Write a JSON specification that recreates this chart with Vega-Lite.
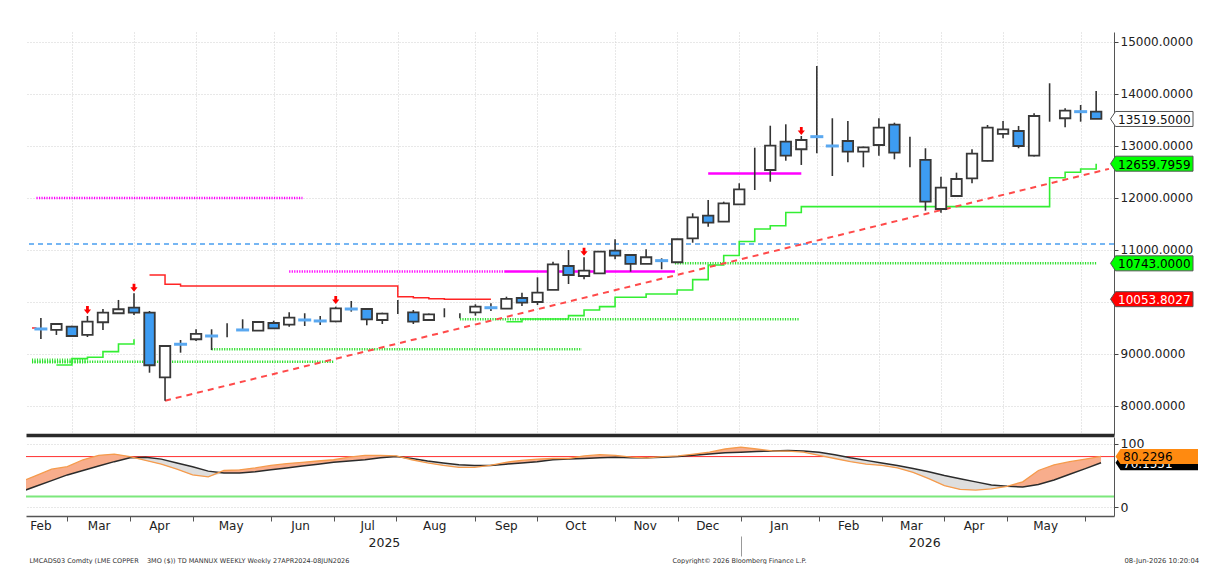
{
  "$schema": "https://vega.github.io/schema/vega-lite/v6.json",
  "background": "white",
  "padding": {"left": 22, "top": 32, "right": 2, "bottom": 0},
  "spacing": 2,
  "config": {"view": {"stroke": null}, "font": "DejaVu Sans"},
  "datasets": {
    "candles": [
      {"d":"2025-02-21","o":9481,"h":9692,"l":9289,"c":9481,"t":"doji"},
      {"d":"2025-02-28","o":9462,"h":9596,"l":9366,"c":9577,"t":"up"},
      {"d":"2025-03-07","o":9525,"h":9545,"l":9327,"c":9346,"t":"down"},
      {"d":"2025-03-14","o":9366,"h":9731,"l":9327,"c":9621,"t":"up"},
      {"d":"2025-03-21","o":9610,"h":9865,"l":9462,"c":9794,"t":"up"},
      {"d":"2025-03-28","o":9783,"h":10039,"l":9775,"c":9860,"t":"up"},
      {"d":"2025-04-04","o":9890,"h":10167,"l":9750,"c":9794,"t":"down"},
      {"d":"2025-04-11","o":9794,"h":9827,"l":8640,"c":8783,"t":"down"},
      {"d":"2025-04-18","o":8552,"h":9163,"l":8102,"c":9154,"t":"up"},
      {"d":"2025-04-25","o":9187,"h":9269,"l":9025,"c":9187,"t":"doji"},
      {"d":"2025-05-02","o":9283,"h":9475,"l":9250,"c":9385,"t":"up"},
      {"d":"2025-05-09","o":9346,"h":9475,"l":9077,"c":9346,"t":"doji"},
      {"d":"2025-05-16","o":9455,"h":9590,"l":9321,"c":9455,"t":"wick"},
      {"d":"2025-05-23","o":9462,"h":9667,"l":9462,"c":9462,"t":"doji"},
      {"d":"2025-05-30","o":9448,"h":9615,"l":9448,"c":9615,"t":"up"},
      {"d":"2025-06-06","o":9596,"h":9640,"l":9494,"c":9494,"t":"down"},
      {"d":"2025-06-13","o":9564,"h":9802,"l":9525,"c":9698,"t":"up"},
      {"d":"2025-06-20","o":9654,"h":9783,"l":9538,"c":9654,"t":"doji"},
      {"d":"2025-06-27","o":9635,"h":9731,"l":9558,"c":9635,"t":"doji"},
      {"d":"2025-07-04","o":9629,"h":9910,"l":9610,"c":9879,"t":"up"},
      {"d":"2025-07-11","o":9865,"h":10019,"l":9814,"c":9865,"t":"doji"},
      {"d":"2025-07-18","o":9865,"h":9865,"l":9552,"c":9667,"t":"down"},
      {"d":"2025-07-25","o":9654,"h":9794,"l":9577,"c":9775,"t":"up"},
      {"d":"2025-08-01","o":9900,"h":10039,"l":9769,"c":9900,"t":"wick"},
      {"d":"2025-08-08","o":9802,"h":9846,"l":9577,"c":9621,"t":"down"},
      {"d":"2025-08-15","o":9654,"h":9780,"l":9645,"c":9763,"t":"up"},
      {"d":"2025-08-22","o":9790,"h":9879,"l":9706,"c":9790,"t":"wick"},
      {"d":"2025-08-29","o":9735,"h":9783,"l":9687,"c":9735,"t":"wick"},
      {"d":"2025-09-05","o":9802,"h":9956,"l":9737,"c":9910,"t":"up"},
      {"d":"2025-09-12","o":9890,"h":9975,"l":9827,"c":9890,"t":"doji"},
      {"d":"2025-09-19","o":9871,"h":10102,"l":9871,"c":10058,"t":"up"},
      {"d":"2025-09-26","o":10077,"h":10179,"l":9923,"c":9987,"t":"down"},
      {"d":"2025-10-03","o":10000,"h":10475,"l":9942,"c":10179,"t":"up"},
      {"d":"2025-10-10","o":10231,"h":10775,"l":10231,"c":10725,"t":"up"},
      {"d":"2025-10-17","o":10692,"h":11000,"l":10346,"c":10519,"t":"down"},
      {"d":"2025-10-24","o":10500,"h":10860,"l":10437,"c":10602,"t":"up"},
      {"d":"2025-10-31","o":10552,"h":10975,"l":10540,"c":10967,"t":"up"},
      {"d":"2025-11-07","o":10987,"h":11206,"l":10821,"c":10890,"t":"down"},
      {"d":"2025-11-14","o":10904,"h":10910,"l":10583,"c":10731,"t":"down"},
      {"d":"2025-11-21","o":10731,"h":11013,"l":10731,"c":10860,"t":"up"},
      {"d":"2025-11-28","o":10795,"h":10840,"l":10629,"c":10795,"t":"doji"},
      {"d":"2025-12-05","o":10764,"h":11215,"l":10755,"c":11206,"t":"up"},
      {"d":"2025-12-12","o":11225,"h":11706,"l":11140,"c":11629,"t":"up"},
      {"d":"2025-12-19","o":11660,"h":11962,"l":11448,"c":11525,"t":"down"},
      {"d":"2025-12-26","o":11544,"h":11929,"l":11544,"c":11898,"t":"up"},
      {"d":"2026-01-02","o":11879,"h":12283,"l":11879,"c":12167,"t":"up"},
      {"d":"2026-01-09","o":12560,"h":12967,"l":12154,"c":12560,"t":"wick"},
      {"d":"2026-01-16","o":12538,"h":13390,"l":12313,"c":13006,"t":"up"},
      {"d":"2026-01-23","o":13083,"h":13417,"l":12717,"c":12813,"t":"down"},
      {"d":"2026-01-30","o":12937,"h":13192,"l":12635,"c":13115,"t":"up"},
      {"d":"2026-02-06","o":13179,"h":14538,"l":12860,"c":13179,"t":"doji"},
      {"d":"2026-02-13","o":13000,"h":13533,"l":12423,"c":13000,"t":"doji"},
      {"d":"2026-02-20","o":13096,"h":13481,"l":12687,"c":12890,"t":"down"},
      {"d":"2026-02-27","o":12890,"h":12990,"l":12590,"c":12975,"t":"up"},
      {"d":"2026-03-06","o":13019,"h":13533,"l":12813,"c":13352,"t":"up"},
      {"d":"2026-03-13","o":13410,"h":13448,"l":12744,"c":12871,"t":"down"},
      {"d":"2026-03-20","o":12880,"h":13179,"l":12590,"c":12880,"t":"wick"},
      {"d":"2026-03-27","o":12731,"h":12956,"l":11756,"c":11929,"t":"down"},
      {"d":"2026-04-03","o":11788,"h":12410,"l":11717,"c":12198,"t":"up"},
      {"d":"2026-04-10","o":12038,"h":12487,"l":12030,"c":12365,"t":"up"},
      {"d":"2026-04-17","o":12379,"h":12937,"l":12283,"c":12852,"t":"up"},
      {"d":"2026-04-24","o":12712,"h":13404,"l":12705,"c":13352,"t":"up"},
      {"d":"2026-05-01","o":13231,"h":13481,"l":13148,"c":13321,"t":"up"},
      {"d":"2026-05-08","o":13288,"h":13385,"l":12956,"c":13000,"t":"down"},
      {"d":"2026-05-15","o":12813,"h":13629,"l":12800,"c":13577,"t":"up"},
      {"d":"2026-05-22","o":13830,"h":14206,"l":13467,"c":13830,"t":"wick"},
      {"d":"2026-05-29","o":13533,"h":13725,"l":13360,"c":13679,"t":"up"},
      {"d":"2026-06-05","o":13660,"h":13788,"l":13467,"c":13660,"t":"doji"},
      {"d":"2026-06-12","o":13660,"h":14058,"l":13519.5,"c":13519.5,"t":"down"}
    ],
    "lines": [
      {"s":"mdot","d":"2025-02-19","v":12000},{"s":"mdot","d":"2025-06-19","v":12000},
      {"s":"mdot2","d":"2025-06-13","v":10585},{"s":"mdot2","d":"2025-09-18","v":10585},
      {"s":"msol","d":"2025-09-18","v":10585},{"s":"msol","d":"2025-12-04","v":10585},
      {"s":"msol2","d":"2025-12-19","v":12471},{"s":"msol2","d":"2026-01-30","v":12471},
      {"s":"gdot1","d":"2025-05-09","v":9091},{"s":"gdot1","d":"2025-10-23","v":9091},
      {"s":"gdot2","d":"2025-02-17","v":8852},{"s":"gdot2","d":"2025-07-03","v":8852},
      {"s":"ghatch","d":"2025-02-17","v":8866},{"s":"ghatch","d":"2025-03-14","v":8866},
      {"s":"gdot3","d":"2025-08-29","v":9667},{"s":"gdot3","d":"2026-01-29","v":9667},
      {"s":"gdot4","d":"2025-12-04","v":10743},{"s":"gdot4","d":"2026-06-12","v":10743},
      {"s":"rleft","d":"2025-02-17","v":9500},{"s":"rleft","d":"2025-02-19","v":9500},
      {"s":"rstep","d":"2025-04-11","v":10519},{"s":"rstep","d":"2025-04-18","v":10340},
      {"s":"rstep","d":"2025-04-25","v":10308},{"s":"rstep","d":"2025-08-01","v":10102},
      {"s":"rstep","d":"2025-08-08","v":10083},{"s":"rstep","d":"2025-08-15","v":10063},
      {"s":"rstep","d":"2025-08-22","v":10053.8027},{"s":"rstep","d":"2025-09-12","v":10053.8027},
      {"s":"gstepA","d":"2025-02-28","v":8789},{"s":"gstepA","d":"2025-03-07","v":8910},
      {"s":"gstepA","d":"2025-03-14","v":8936},{"s":"gstepA","d":"2025-03-21","v":9045},
      {"s":"gstepA","d":"2025-03-28","v":9192},{"s":"gstepA","d":"2025-04-04","v":9283},
      {"s":"gstepB","d":"2025-09-19","v":9621},{"s":"gstepB","d":"2025-09-26","v":9673},
      {"s":"gstepB","d":"2025-10-17","v":9737},{"s":"gstepB","d":"2025-10-24","v":9846},
      {"s":"gstepB","d":"2025-10-31","v":9910},{"s":"gstepB","d":"2025-11-07","v":10090},
      {"s":"gstepB","d":"2025-11-21","v":10154},{"s":"gstepB","d":"2025-12-05","v":10231},
      {"s":"gstepB","d":"2025-12-12","v":10430},{"s":"gstepB","d":"2025-12-19","v":10712},
      {"s":"gstepB","d":"2025-12-26","v":10895},{"s":"gstepB","d":"2026-01-02","v":11163},
      {"s":"gstepB","d":"2026-01-09","v":11404},{"s":"gstepB","d":"2026-01-16","v":11467},
      {"s":"gstepB","d":"2026-01-23","v":11721},{"s":"gstepB","d":"2026-01-30","v":11833},
      {"s":"gstepB","d":"2026-05-22","v":12390},{"s":"gstepB","d":"2026-05-29","v":12494},
      {"s":"gstepB","d":"2026-06-05","v":12558},{"s":"gstepB","d":"2026-06-12","v":12659.7959},
      {"s":"trend","d":"2025-04-18","v":8102},{"s":"trend","d":"2026-06-17T19:00:00Z","v":12560}
    ],
    "arrows": [
      {"d":"2025-03-14","v":9846},
      {"d":"2025-04-04","v":10275},
      {"d":"2025-07-04","v":10039},
      {"d":"2025-10-24","v":10967},
      {"d":"2026-01-30","v":13288}
    ],
    "ind": [
      {"d":"2025-02-14","s":24,"f":40,"lo":24},
      {"d":"2025-02-21","s":33,"f":50,"lo":33},
      {"d":"2025-02-28","s":42,"f":60,"lo":42},
      {"d":"2025-03-07","s":51,"f":64,"lo":51},
      {"d":"2025-03-14","s":58,"f":75,"lo":58},
      {"d":"2025-03-21","s":65,"f":82,"lo":65},
      {"d":"2025-03-28","s":72,"f":84,"lo":72},
      {"d":"2025-04-04","s":78,"f":80,"lo":78},
      {"d":"2025-04-11","s":79,"f":74,"lo":74},
      {"d":"2025-04-18","s":76,"f":68,"lo":68},
      {"d":"2025-04-25","s":70,"f":60,"lo":60},
      {"d":"2025-05-02","s":64,"f":51,"lo":51},
      {"d":"2025-05-09","s":57,"f":48,"lo":48},
      {"d":"2025-05-16","s":54,"f":58,"lo":54},
      {"d":"2025-05-23","s":54,"f":59,"lo":54},
      {"d":"2025-05-30","s":56,"f":62,"lo":56},
      {"d":"2025-06-06","s":59,"f":66,"lo":59},
      {"d":"2025-06-13","s":62,"f":69,"lo":62},
      {"d":"2025-06-20","s":65,"f":71,"lo":65},
      {"d":"2025-06-27","s":68,"f":73,"lo":68},
      {"d":"2025-07-04","s":71,"f":75,"lo":71},
      {"d":"2025-07-11","s":73,"f":79,"lo":73},
      {"d":"2025-07-18","s":75,"f":82,"lo":75},
      {"d":"2025-07-25","s":78,"f":82,"lo":78},
      {"d":"2025-08-01","s":80,"f":81,"lo":80},
      {"d":"2025-08-08","s":77,"f":75,"lo":75},
      {"d":"2025-08-15","s":73,"f":70,"lo":70},
      {"d":"2025-08-22","s":70,"f":66,"lo":66},
      {"d":"2025-08-29","s":67,"f":63,"lo":63},
      {"d":"2025-09-05","s":66,"f":63,"lo":63},
      {"d":"2025-09-12","s":66,"f":66,"lo":66},
      {"d":"2025-09-19","s":68,"f":71,"lo":68},
      {"d":"2025-09-26","s":70,"f":74,"lo":70},
      {"d":"2025-10-03","s":72,"f":76,"lo":72},
      {"d":"2025-10-10","s":75,"f":77,"lo":75},
      {"d":"2025-10-17","s":76,"f":77,"lo":76},
      {"d":"2025-10-24","s":77,"f":81,"lo":77},
      {"d":"2025-10-31","s":78,"f":83,"lo":78},
      {"d":"2025-11-07","s":79,"f":82,"lo":79},
      {"d":"2025-11-14","s":78,"f":79,"lo":78},
      {"d":"2025-11-21","s":78,"f":78,"lo":78},
      {"d":"2025-11-28","s":79,"f":80,"lo":79},
      {"d":"2025-12-05","s":80,"f":81,"lo":80},
      {"d":"2025-12-12","s":82,"f":84,"lo":82},
      {"d":"2025-12-19","s":84,"f":87,"lo":84},
      {"d":"2025-12-26","s":86,"f":92,"lo":86},
      {"d":"2026-01-02","s":87,"f":95,"lo":87},
      {"d":"2026-01-09","s":88,"f":92,"lo":88},
      {"d":"2026-01-16","s":89,"f":89,"lo":89},
      {"d":"2026-01-23","s":89.5,"f":88.5,"lo":88.5},
      {"d":"2026-01-30","s":89,"f":87,"lo":87},
      {"d":"2026-02-06","s":87,"f":82,"lo":82},
      {"d":"2026-02-13","s":83,"f":77,"lo":77},
      {"d":"2026-02-20","s":78,"f":72,"lo":72},
      {"d":"2026-02-27","s":74,"f":68,"lo":68},
      {"d":"2026-03-06","s":70,"f":66,"lo":66},
      {"d":"2026-03-13","s":66,"f":62,"lo":62},
      {"d":"2026-03-20","s":61,"f":55,"lo":55},
      {"d":"2026-03-27","s":56,"f":45,"lo":45},
      {"d":"2026-04-03","s":50,"f":34,"lo":34},
      {"d":"2026-04-10","s":45,"f":28,"lo":28},
      {"d":"2026-04-17","s":40,"f":27,"lo":27},
      {"d":"2026-04-24","s":35,"f":29,"lo":29},
      {"d":"2026-05-01","s":33,"f":33,"lo":33},
      {"d":"2026-05-08","s":32,"f":40,"lo":32},
      {"d":"2026-05-15","s":36,"f":58,"lo":36},
      {"d":"2026-05-22","s":43,"f":67,"lo":43},
      {"d":"2026-05-29","s":52,"f":72,"lo":52},
      {"d":"2026-06-05","s":61,"f":76,"lo":61},
      {"d":"2026-06-12","s":70.1551,"f":80.2296,"lo":70.1551}
    ],
    "tagsMain": [
      {"v":13519.5,"k":"last"},
      {"v":12659.7959,"k":"up"},
      {"v":10743,"k":"up"},
      {"v":10053.8027,"k":"dn"}
    ],
    "tagsInd": [
      {"v":70.1551,"k":"slow"},
      {"v":80.2296,"k":"fast"}
    ]
  },
  "vconcat": [
    {
      "width": 1088,
      "height": 403,
      "resolve": {"scale": {"fill": "independent", "color": "independent"}},
      "layer": [
        {
          "data": {"values": [{}]},
          "mark": {"type": "rule", "color": "#4a9ff0", "strokeWidth": 1.5, "strokeDash": [5, 4]},
          "encoding": {
            "y": {"datum": 11115, "type": "quantitative",
              "scale": {"domain": [7442, 15192], "nice": false, "zero": false},
              "axis": {"orient": "right", "values": [8000, 9000, 10000, 11000, 12000, 13000, 14000, 15000],
                "labelExpr": "datum.value == 10000 ? '' : format(datum.value, '.4f')",
                "labelFont": "DejaVu Sans", "labelFontSize": 12, "labelColor": "#222", "labelPadding": 2,
                "tickSize": 4, "tickColor": "#444", "domainColor": "#555", "domainWidth": 1,
                "grid": true, "gridColor": "#d0d0d0", "gridDash": [1, 2], "title": null}}
          }
        },
        {
          "data": {"name": "lines"},
          "transform": [{"filter": {"field": "s", "oneOf": ["gdot1", "gdot2", "gdot3", "gdot4"]}}],
          "mark": {"type": "line", "color": "#2ee02e", "strokeWidth": 2.5, "strokeDash": [1.2, 1.3]},
          "encoding": {
            "x": {"field": "d", "type": "temporal",
              "scale": {"type": "utc", "domain": [{"year": 2025, "month": 2, "date": 16, "hours": 13, "utc": true}, {"year": 2026, "month": 6, "date": 17, "hours": 19, "utc": true}]},
              "axis": {"orient": "bottom", "values": [
                  {"year": 2025, "month": 3, "date": 7, "utc": true}, {"year": 2025, "month": 4, "date": 4, "utc": true},
                  {"year": 2025, "month": 5, "date": 2, "utc": true}, {"year": 2025, "month": 6, "date": 6, "utc": true},
                  {"year": 2025, "month": 7, "date": 4, "utc": true}, {"year": 2025, "month": 8, "date": 1, "utc": true},
                  {"year": 2025, "month": 9, "date": 5, "utc": true}, {"year": 2025, "month": 10, "date": 3, "utc": true},
                  {"year": 2025, "month": 11, "date": 7, "utc": true}, {"year": 2025, "month": 12, "date": 5, "utc": true},
                  {"year": 2026, "month": 1, "date": 2, "utc": true}, {"year": 2026, "month": 2, "date": 6, "utc": true},
                  {"year": 2026, "month": 3, "date": 6, "utc": true}, {"year": 2026, "month": 4, "date": 3, "utc": true},
                  {"year": 2026, "month": 5, "date": 1, "utc": true}, {"year": 2026, "month": 6, "date": 5, "utc": true}],
                "labels": false, "ticks": false, "domain": true, "domainColor": "#2a2a2a", "domainWidth": 3.5,
                "grid": true, "gridColor": "#d0d0d0", "gridDash": [1, 2], "title": null}},
            "y": {"field": "v", "type": "quantitative", "scale": {"domain": [7442, 15192], "nice": false, "zero": false}},
            "detail": {"field": "s", "type": "nominal"}
          }
        },
        {
          "data": {"name": "lines"},
          "transform": [{"filter": {"field": "s", "equal": "ghatch"}}],
          "mark": {"type": "line", "color": "#2ee02e", "strokeWidth": 5, "strokeDash": [1, 1.5]},
          "encoding": {
            "x": {"field": "d", "type": "temporal"},
            "y": {"field": "v", "type": "quantitative"}
          }
        },
        {
          "data": {"name": "lines"},
          "transform": [{"filter": {"field": "s", "oneOf": ["mdot", "mdot2"]}}],
          "mark": {"type": "line", "color": "#ff00ff", "strokeWidth": 2.5, "strokeDash": [1.2, 1.3]},
          "encoding": {
            "x": {"field": "d", "type": "temporal"},
            "y": {"field": "v", "type": "quantitative"},
            "detail": {"field": "s", "type": "nominal"}
          }
        },
        {
          "data": {"name": "lines"},
          "transform": [{"filter": {"field": "s", "oneOf": ["msol", "msol2"]}}],
          "mark": {"type": "line", "color": "#ff00ff", "strokeWidth": 2.5},
          "encoding": {
            "x": {"field": "d", "type": "temporal"},
            "y": {"field": "v", "type": "quantitative"},
            "detail": {"field": "s", "type": "nominal"}
          }
        },
        {
          "data": {"name": "lines"},
          "transform": [{"filter": {"field": "s", "oneOf": ["rstep", "rleft"]}}],
          "mark": {"type": "line", "color": "#ff2424", "strokeWidth": 1.5, "interpolate": "step-after"},
          "encoding": {
            "x": {"field": "d", "type": "temporal"},
            "y": {"field": "v", "type": "quantitative"},
            "detail": {"field": "s", "type": "nominal"}
          }
        },
        {
          "data": {"name": "lines"},
          "transform": [{"filter": {"field": "s", "oneOf": ["gstepA", "gstepB"]}}],
          "mark": {"type": "line", "color": "#33ee33", "strokeWidth": 1.6, "interpolate": "step-after"},
          "encoding": {
            "x": {"field": "d", "type": "temporal"},
            "y": {"field": "v", "type": "quantitative"},
            "detail": {"field": "s", "type": "nominal"}
          }
        },
        {
          "data": {"name": "lines"},
          "transform": [{"filter": {"field": "s", "equal": "trend"}}],
          "mark": {"type": "line", "color": "#ff4a4a", "strokeWidth": 2, "strokeDash": [6, 5]},
          "encoding": {
            "x": {"field": "d", "type": "temporal"},
            "y": {"field": "v", "type": "quantitative"}
          }
        },
        {
          "data": {"name": "candles"},
          "mark": {"type": "rule", "color": "#333333", "strokeWidth": 1.6},
          "encoding": {
            "x": {"field": "d", "type": "temporal"},
            "y": {"field": "l", "type": "quantitative"},
            "y2": {"field": "h"}
          }
        },
        {
          "data": {"name": "candles"},
          "transform": [{"filter": {"field": "t", "oneOf": ["up", "down"]}}],
          "mark": {"type": "bar", "width": 10.5, "stroke": "#383838", "strokeWidth": 1.8},
          "encoding": {
            "x": {"field": "d", "type": "temporal"},
            "y": {"field": "o", "type": "quantitative"},
            "y2": {"field": "c"},
            "fill": {"field": "t", "type": "nominal", "scale": {"domain": ["up", "down"], "range": ["#ffffff", "#3d9cf2"]}, "legend": null}
          }
        },
        {
          "data": {"name": "candles"},
          "transform": [{"filter": {"field": "t", "equal": "doji"}}],
          "mark": {"type": "tick", "orient": "horizontal", "size": 13, "thickness": 3, "color": "#5aa8f0", "opacity": 1},
          "encoding": {
            "x": {"field": "d", "type": "temporal"},
            "y": {"field": "o", "type": "quantitative"}
          }
        },
        {
          "data": {"name": "arrows"},
          "mark": {"type": "point", "shape": "M-0.35,-1 L0.35,-1 L0.35,-0.1 L0.9,-0.1 L0,1 L-0.9,-0.1 L-0.35,-0.1 Z", "size": 64, "filled": true, "color": "#ff0000", "opacity": 1, "strokeWidth": 0},
          "encoding": {
            "x": {"field": "d", "type": "temporal"},
            "y": {"field": "v", "type": "quantitative"}
          }
        },
        {
          "data": {"name": "tagsMain"},
          "mark": {"type": "point", "shape": "M0.15,0 L0.65,-0.75 L8.4,-0.75 L8.4,0.75 L0.65,0.75 Z", "size": 400, "filled": true, "opacity": 1, "stroke": "#555555", "strokeWidth": 1},
          "encoding": {
            "x": {"datum": {"year": 2026, "month": 6, "date": 17, "hours": 19, "utc": true}, "type": "temporal"},
            "y": {"field": "v", "type": "quantitative"},
            "fill": {"field": "k", "type": "nominal", "scale": {"domain": ["last", "up", "dn"], "range": ["#ffffff", "#00ff00", "#ff0000"]}, "legend": null}
          }
        },
        {
          "data": {"name": "tagsMain"},
          "mark": {"type": "text", "align": "left", "baseline": "middle", "dx": 9, "dy": 1, "font": "DejaVu Sans", "fontSize": 12},
          "encoding": {
            "x": {"datum": {"year": 2026, "month": 6, "date": 17, "hours": 19, "utc": true}, "type": "temporal"},
            "y": {"field": "v", "type": "quantitative"},
            "text": {"field": "v", "type": "quantitative", "format": ".4f"},
            "color": {"field": "k", "type": "nominal", "scale": {"domain": ["last", "up", "dn"], "range": ["#111111", "#000000", "#ffffff"]}, "legend": null}
          }
        }
      ]
    },
    {
      "width": 1088,
      "height": 79,
      "resolve": {"axis": {"x": "independent"}},
      "layer": [
        {
          "data": {"values": [{}]},
          "mark": {"type": "rule", "color": "#ff3030", "strokeWidth": 1},
          "encoding": {
            "y": {"datum": 80, "type": "quantitative",
              "scale": {"domain": [-14, 111], "nice": false, "zero": false},
              "axis": {"orient": "right", "values": [0, 50, 100], "format": "d",
                "labelFont": "DejaVu Sans", "labelFontSize": 12.5, "labelColor": "#222", "labelPadding": 2,
                "tickSize": 4, "tickColor": "#444", "domainColor": "#555", "domainWidth": 1,
                "grid": true, "gridColor": "#d0d0d0", "gridDash": [1, 2], "title": null}}
          }
        },
        {
          "data": {"values": [{}]},
          "mark": {"type": "rule", "color": "#7ce87c", "strokeWidth": 2},
          "encoding": {"y": {"datum": 17, "type": "quantitative"}}
        },
        {
          "data": {"name": "ind"},
          "mark": {"type": "area", "color": "#f8ad8c", "opacity": 1, "clip": true},
          "encoding": {
            "x": {"field": "d", "type": "temporal",
              "scale": {"type": "utc", "domain": [{"year": 2025, "month": 2, "date": 16, "hours": 13, "utc": true}, {"year": 2026, "month": 6, "date": 17, "hours": 19, "utc": true}]},
              "axis": {"orient": "bottom", "values": [
                  {"year": 2025, "month": 3, "date": 7, "utc": true}, {"year": 2025, "month": 4, "date": 4, "utc": true},
                  {"year": 2025, "month": 5, "date": 2, "utc": true}, {"year": 2025, "month": 6, "date": 6, "utc": true},
                  {"year": 2025, "month": 7, "date": 4, "utc": true}, {"year": 2025, "month": 8, "date": 1, "utc": true},
                  {"year": 2025, "month": 9, "date": 5, "utc": true}, {"year": 2025, "month": 10, "date": 3, "utc": true},
                  {"year": 2025, "month": 11, "date": 7, "utc": true}, {"year": 2025, "month": 12, "date": 5, "utc": true},
                  {"year": 2026, "month": 1, "date": 2, "utc": true}, {"year": 2026, "month": 2, "date": 6, "utc": true},
                  {"year": 2026, "month": 3, "date": 6, "utc": true}, {"year": 2026, "month": 4, "date": 3, "utc": true},
                  {"year": 2026, "month": 5, "date": 1, "utc": true}, {"year": 2026, "month": 6, "date": 5, "utc": true}],
                "labels": false, "ticks": true, "tickSize": 5, "tickColor": "#555", "domain": true, "domainColor": "#555", "domainWidth": 1.5,
                "grid": false,
                "title": "08-Jun-2026 10:20:04", "titleFont": "DejaVu Sans", "titleFontSize": 6.8, "titleFontWeight": "normal", "titleColor": "#333",
                "titleX": 1098, "titleY": 46, "titleAlign": "left", "titleBaseline": "alphabetic", "titleAngle": 0}},
            "y": {"field": "f", "type": "quantitative"},
            "y2": {"field": "s"}
          }
        },
        {
          "data": {"name": "ind"},
          "mark": {"type": "area", "color": "#dedede", "opacity": 1, "clip": true},
          "encoding": {
            "x": {"field": "d", "type": "temporal",
              "axis": {"orient": "bottom", "values": [
                  {"year": 2025, "month": 2, "date": 23, "utc": true}, {"year": 2025, "month": 3, "date": 21, "utc": true},
                  {"year": 2025, "month": 4, "date": 17, "utc": true}, {"year": 2025, "month": 5, "date": 19, "utc": true},
                  {"year": 2025, "month": 6, "date": 19, "utc": true}, {"year": 2025, "month": 7, "date": 19, "utc": true},
                  {"year": 2025, "month": 8, "date": 18, "utc": true}, {"year": 2025, "month": 9, "date": 19, "utc": true},
                  {"year": 2025, "month": 10, "date": 20, "utc": true}, {"year": 2025, "month": 11, "date": 20, "utc": true},
                  {"year": 2025, "month": 12, "date": 18, "utc": true}, {"year": 2026, "month": 1, "date": 19, "utc": true},
                  {"year": 2026, "month": 2, "date": 19, "utc": true}, {"year": 2026, "month": 3, "date": 19, "utc": true},
                  {"year": 2026, "month": 4, "date": 16, "utc": true}, {"year": 2026, "month": 5, "date": 18, "utc": true}],
                "labelExpr": "utcFormat(datum.value, '%b')", "ticks": false, "domain": false, "grid": false,
                "labelFont": "DejaVu Sans", "labelFontSize": 12, "labelColor": "#222", "labelPadding": 4,
                "labelOverlap": false, "labelFlush": false, "title": null}},
            "y": {"field": "s", "type": "quantitative"},
            "y2": {"field": "lo"}
          }
        },
        {
          "data": {"name": "ind"},
          "mark": {"type": "line", "color": "#2b2b2b", "strokeWidth": 1.5, "clip": true},
          "encoding": {
            "x": {"field": "d", "type": "temporal",
              "axis": {"orient": "bottom", "offset": 18, "values": [
                  {"year": 2025, "month": 7, "date": 26, "hours": 12, "utc": true}, {"year": 2026, "month": 3, "date": 25, "utc": true}],
                "labelExpr": "utcFormat(datum.value, '%Y')", "ticks": false, "domain": false, "grid": false,
                "labelFont": "DejaVu Sans", "labelFontSize": 12.5, "labelColor": "#222", "labelPadding": 2,
                "labelOverlap": false, "labelFlush": false,
                "title": "LMCADS03 Comdty (LME COPPER\u00a0\u00a0\u00a0\u00a03MO ($)) TD MANNUX WEEKLY Weekly 27APR2024-08JUN2026",
                "titleFont": "DejaVu Sans", "titleFontSize": 6.5, "titleFontWeight": "normal", "titleColor": "#333",
                "titleX": 3, "titleY": 28, "titleAlign": "left", "titleBaseline": "alphabetic", "titleAngle": 0}},
            "y": {"field": "s", "type": "quantitative"}
          }
        },
        {
          "data": {"name": "ind"},
          "mark": {"type": "line", "color": "#f59b4c", "strokeWidth": 1.3, "clip": true},
          "encoding": {
            "x": {"field": "d", "type": "temporal",
              "axis": {"orient": "bottom", "offset": 20, "values": [{"year": 2026, "month": 1, "date": 2, "utc": true}],
                "labels": false, "ticks": true, "tickSize": 20, "tickColor": "#999", "tickWidth": 1, "domain": false, "grid": false,
                "title": "Copyright\u00a9 2026 Bloomberg Finance L.P.",
                "titleFont": "DejaVu Sans", "titleFontSize": 6.5, "titleFontWeight": "normal", "titleColor": "#333",
                "titleX": 646, "titleY": 26, "titleAlign": "left", "titleBaseline": "alphabetic", "titleAngle": 0}},
            "y": {"field": "f", "type": "quantitative"}
          }
        },
        {
          "data": {"name": "tagsInd"},
          "transform": [{"filter": {"field": "k", "equal": "slow"}}],
          "mark": {"type": "point", "shape": "M0.15,0 L0.65,-0.75 L8.4,-0.75 L8.4,0.75 L0.65,0.75 Z", "size": 400, "filled": true, "opacity": 1, "color": "#000000", "strokeWidth": 0},
          "encoding": {
            "x": {"datum": {"year": 2026, "month": 6, "date": 17, "hours": 19, "utc": true}, "type": "temporal", "axis": null},
            "y": {"field": "v", "type": "quantitative"}
          }
        },
        {
          "data": {"name": "tagsInd"},
          "transform": [{"filter": {"field": "k", "equal": "slow"}}],
          "mark": {"type": "text", "align": "left", "baseline": "middle", "dx": 9, "dy": 1, "font": "DejaVu Sans", "fontSize": 12, "color": "#ffffff"},
          "encoding": {
            "x": {"datum": {"year": 2026, "month": 6, "date": 17, "hours": 19, "utc": true}, "type": "temporal", "axis": null},
            "y": {"field": "v", "type": "quantitative"},
            "text": {"field": "v", "type": "quantitative", "format": ".4f"}
          }
        },
        {
          "data": {"name": "tagsInd"},
          "transform": [{"filter": {"field": "k", "equal": "fast"}}],
          "mark": {"type": "point", "shape": "M0.15,0 L0.65,-0.75 L8.4,-0.75 L8.4,0.75 L0.65,0.75 Z", "size": 400, "filled": true, "opacity": 1, "color": "#ff8a10", "strokeWidth": 0},
          "encoding": {
            "x": {"datum": {"year": 2026, "month": 6, "date": 17, "hours": 19, "utc": true}, "type": "temporal", "axis": null},
            "y": {"field": "v", "type": "quantitative"}
          }
        },
        {
          "data": {"name": "tagsInd"},
          "transform": [{"filter": {"field": "k", "equal": "fast"}}],
          "mark": {"type": "text", "align": "left", "baseline": "middle", "dx": 9, "dy": 1, "font": "DejaVu Sans", "fontSize": 12, "color": "#000000"},
          "encoding": {
            "x": {"datum": {"year": 2026, "month": 6, "date": 17, "hours": 19, "utc": true}, "type": "temporal", "axis": null},
            "y": {"field": "v", "type": "quantitative"},
            "text": {"field": "v", "type": "quantitative", "format": ".4f"}
          }
        }
      ]
    }
  ]
}
